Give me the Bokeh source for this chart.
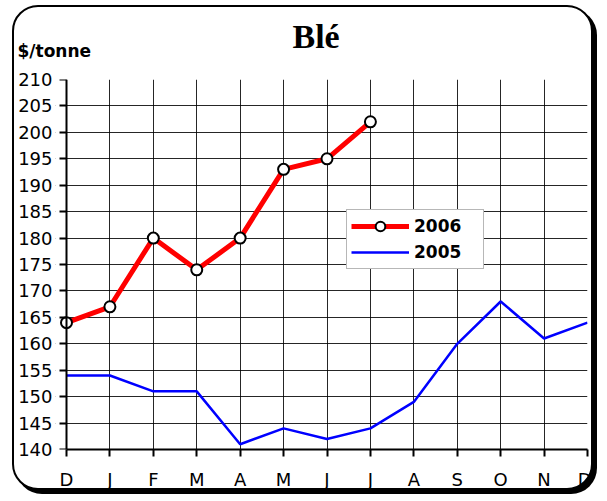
from bokeh.plotting import figure
from bokeh.models import Range1d, FixedTicker, BoxAnnotation, Title, Legend, LegendItem, LinearAxis
from bokeh.embed import file_html
from bokeh.resources import INLINE

months = ["D", "J", "F", "M", "A", "M", "J", "J", "A", "S", "O", "N", "D"]
x_pos = list(range(len(months)))
ble_2006 = [164, 167, 180, 174, 180, 193, 195, 202]
ble_2005 = [154, 154, 151, 151, 141, 144, 142, 144, 149, 160, 168, 161, 164]
y_ticks = list(range(140, 211, 5))

FONT = "DejaVu Sans"

p = figure(width=581, height=485, output_backend="svg", toolbar_location=None,
           x_range=Range1d(-0.2534, 12), y_range=Range1d(140, 210),
           min_border_left=41, min_border_right=8, min_border_top=72, min_border_bottom=41)
p.background_fill_color = "white"
p.border_fill_alpha = 0
p.outline_line_color = None
p.styles = {"margin-left": "12px", "margin-top": "5px",
            "border": "2px solid black", "border-radius": "26px",
            "box-shadow": "4px 4px 0px 0px black", "background": "white"}

# grid
p.xgrid.ticker = FixedTicker(ticks=x_pos)
p.ygrid.ticker = FixedTicker(ticks=y_ticks)
for g in (p.xgrid[0], p.ygrid[0]):
    g.grid_line_color = "black"
    g.grid_line_width = 1
    g.grid_line_alpha = 0.85

# mask grid stubs left of the value axis
p.add_layout(BoxAnnotation(right=x_pos[0], fill_color="white", fill_alpha=1,
                           line_color=None, level="underlay"))

# x axis
p.xaxis.ticker = FixedTicker(ticks=x_pos)
p.xaxis.major_label_overrides = {i: m for i, m in zip(x_pos, months)}
p.xaxis.bounds = (x_pos[0], x_pos[-1])
xa = p.xaxis[0]
xa.axis_line_color = "black"
xa.axis_line_width = 2
xa.major_tick_line_color = "black"
xa.major_tick_line_width = 2
xa.major_tick_in = 0
xa.major_tick_out = 7
xa.minor_tick_line_color = None
xa.major_label_text_font = FONT
xa.major_label_text_font_size = "18px"
xa.major_label_text_color = "black"
xa.major_label_standoff = 12

# y axis labels (left panel)
ya = p.yaxis[0]
ya.ticker = FixedTicker(ticks=y_ticks)
ya.axis_line_color = None
ya.major_tick_line_color = None
ya.major_tick_in = 0
ya.major_tick_out = 0
ya.minor_tick_line_color = None
ya.major_label_text_font = FONT
ya.major_label_text_font_size = "18px"
ya.major_label_text_color = "black"
ya.major_label_standoff = 3

# y axis line and ticks at the first month
yline = LinearAxis(ticker=FixedTicker(ticks=y_ticks), fixed_location=x_pos[0],
                   major_label_overrides={t: "" for t in y_ticks},
                   axis_line_color="black", axis_line_width=2,
                   major_tick_line_color="black", major_tick_line_width=2,
                   major_tick_in=7, major_tick_out=0, minor_tick_line_color=None,
                   major_label_standoff=0, major_label_text_font_size="1px")
p.add_layout(yline, "right")

# data
r05 = p.line(x_pos, ble_2005, line_color="#0000ff", line_width=2.5)
r06 = p.line(x_pos[:len(ble_2006)], ble_2006, line_color="#ff0000", line_width=5)
s06 = p.scatter(x_pos[:len(ble_2006)], ble_2006, size=11, fill_color="white",
                line_color="black", line_width=2)

legend = Legend(items=[LegendItem(label="2006", renderers=[r06, s06]),
                       LegendItem(label="2005", renderers=[r05])],
                location=(291, 180), orientation="vertical",
                padding=4, spacing=2, margin=0,
                glyph_width=58, glyph_height=24, label_standoff=5, label_width=65,
                label_text_font=FONT, label_text_font_style="bold", label_text_font_size="17px",
                label_text_color="black",
                border_line_color="#707070", border_line_width=1.5,
                background_fill_color="white", background_fill_alpha=1)
p.add_layout(legend)

# texts
p.add_layout(Title(text="$/tonne", align="left", offset=-38, standoff=37,
                   text_font=FONT, text_font_style="bold", text_font_size="17px",
                   text_color="black"), "above")
p.add_layout(Title(text="Blé", align="left", offset=237, standoff=-68,
                   text_font="Liberation Serif", text_font_style="bold", text_font_size="34px",
                   text_color="black"), "above")

open("out.html", "w").write(file_html(p, INLINE))
